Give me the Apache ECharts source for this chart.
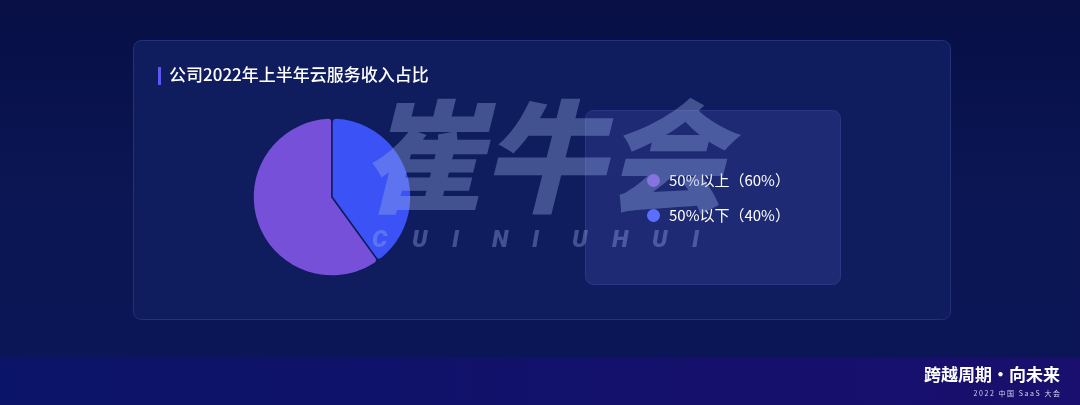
<!DOCTYPE html>
<html><head><meta charset="utf-8">
<script src="https://cdn.jsdelivr.net/npm/echarts@6/dist/echarts.min.js"></script>
<style>html,body{margin:0;padding:0;background:#0a1350;}#c{width:1080px;height:405px;}</style>
</head><body><div id="c"></div>
<script>
const titleText = '公司2022年上半年云服务收入占比';
const categories = ['50%以上', '50%以下'];
const values = [60, 40];
const colors = ['#7650d8', '#3a52f6'];
const legendColors = ['#7d52dc', '#5a6fff'];
const watermarkLetters = ['C','U','I','N','I','U','H','U','I'];

const chart = echarts.init(document.getElementById('c'));
const F = '"Noto Sans CJK SC","Noto Sans",sans-serif';
const wmFill = 'rgba(150,170,230,0.38)';
const graphics = [
  {type:'rect', z:-10, shape:{x:0,y:358,width:1080,height:47}, style:{fill:new echarts.graphic.LinearGradient(0,0,1,0,[{offset:0,color:'#0a1468'},{offset:1,color:'#1a0f6e'}])}},
  {type:'rect', z:-9, shape:{x:133.5,y:40.5,width:817,height:279,r:8}, style:{fill:'#0f1c5e', stroke:'#23307a', lineWidth:1}},
  {type:'rect', z:-8, shape:{x:585.5,y:110.5,width:255,height:174,r:8}, style:{fill:'#1e2b74', stroke:'#2a3784', lineWidth:1}},
  {type:'rect', shape:{x:158,y:67,width:3,height:18}, style:{fill:'#5a58f0'}},
  {type:'text', left:169, top:66, style:{text:titleText, fill:'#ffffff', font:'500 17px '+F}},
  {type:'text', z:100, left:360, top:96, style:{text:'崔牛会', fill:wmFill, font:'italic 900 122px '+F}},
  {type:'text', right:20, top:366, style:{text:'跨越周期·向未来', fill:'#ffffff', font:'bold 17px '+F}},
  {type:'text', right:20, top:390, style:{text:'2 0 2 2   中 国   S a a S   大 会', fill:'#d0d4f0', font:'7px '+F}}
];
watermarkLetters.forEach((ch,i)=>{
  graphics.push({type:'text', z:100, left:372 + i*40, top:229, style:{text:ch, fill:wmFill, font:'italic 900 24px Roboto'}});
});
chart.setOption({
  backgroundColor: new echarts.graphic.LinearGradient(0,0,0,1,[{offset:0,color:'#070f45'},{offset:0.5,color:'#0b1654'},{offset:1,color:'#0c1658'}]),
  graphic: graphics,
  legend: {
    orient:'vertical', left:642, top:168, itemWidth:13, itemHeight:13, itemGap:20,
    icon:'circle',
    data: categories.map((c,i)=>({name:c, itemStyle:{color:legendColors[i], borderWidth:0}})),
    formatter: n => n + '（' + values[categories.indexOf(n)] + '%）',
    textStyle:{color:'#ffffff', fontSize:15, fontFamily:F, padding:[0,0,0,4]}
  },
  series: [{
    type:'pie', center:[332,197], radius:[0,79], startAngle:90, clockwise:false,
    label:{show:false}, labelLine:{show:false}, silent:true,
    itemStyle:{borderRadius:4, borderColor:'#0f1c5e', borderWidth:1.5},
    data: categories.map((c,i)=>({name:c, value:values[i], itemStyle:{color:colors[i]}}))
  }]
});
</script></body></html>
